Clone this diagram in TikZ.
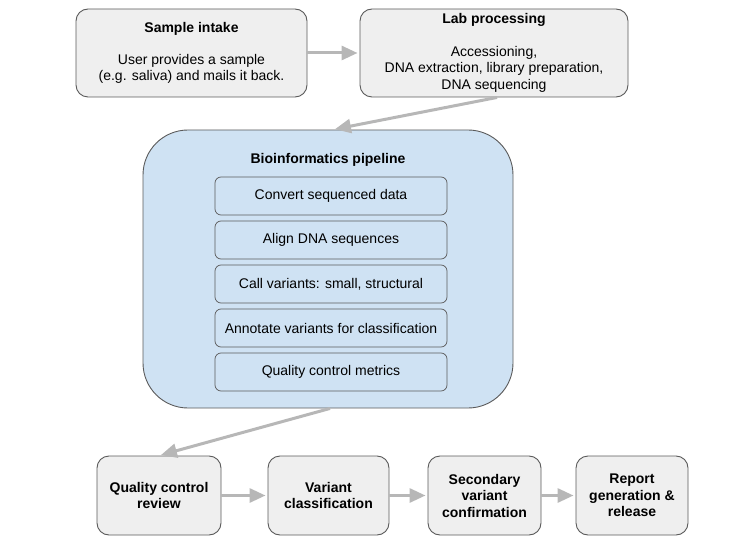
\documentclass[tikz,border=0pt]{standalone}
\usepackage{fontspec}
\setmainfont{Liberation Sans}
\usetikzlibrary{arrows.meta}
\definecolor{boxgray}{HTML}{EFEFEF}
\definecolor{edgegray}{HTML}{5A5A5A}
\definecolor{pipeblue}{HTML}{CFE2F3}
\definecolor{arrowgray}{HTML}{B7B7B7}
\tikzset{
  stagebox/.style = {draw=edgegray, fill=boxgray, rounded corners=12pt,
                     line width=0.9pt, align=center, inner sep=0pt,
                     font=\fontsize{14}{16.5}\selectfont},
  pipebox/.style  = {draw=edgegray, fill=pipeblue, rounded corners=45pt,
                     line width=0.9pt, minimum width=370pt, minimum height=278pt},
  substep/.style  = {draw=edgegray, fill=pipeblue, rounded corners=6pt,
                     line width=0.7pt, minimum width=232pt, minimum height=38pt,
                     inner sep=0pt, font=\fontsize{14}{16.5}\selectfont},
  flowarr/.style  = {-{Triangle[length=16pt,width=14pt]}, arrowgray,
                     line width=3pt, shorten >=2pt}
}

\begin{document}
\begin{tikzpicture}[x=1pt,y=-1pt]
  \useasboundingbox (0,0) rectangle (749,545);
  % top row
  \node[stagebox,minimum width=231pt,minimum height=88pt] (intake) at (191.5,53)
       {\textbf{Sample intake}\\[15pt]User provides a sample\\(e.g. saliva) and mails it back.};
  \node[stagebox,minimum width=268pt,minimum height=88pt] (lab) at (494,53)
       {\textbf{Lab processing}\\[16pt]Accessioning,\\DNA extraction, library preparation,\\DNA sequencing};
  % the pipeline and its steps
  \node[pipebox] (pipe) at (328,269) {};
  \node[font=\fontsize{14}{16.5}\selectfont\bfseries] (pipetitle) at (328,160) {Bioinformatics pipeline};
  \foreach \txt [count=\i] in {Convert sequenced data, Align DNA sequences,
      {Call variants: small, structural}, Annotate variants for classification,
      Quality control metrics}
    \node[substep] (p\i) at (331,152+44*\i) {\txt};
  % bottom row
  \node[stagebox,font=\fontsize{14}{16.5}\selectfont\bfseries,minimum width=124pt,minimum height=79pt]
       (qc) at (159,495.5) {Quality control\\review};
  \node[stagebox,font=\fontsize{14}{16.5}\selectfont\bfseries,minimum width=121pt,minimum height=79pt]
       (varcls) at (328.5,495.5) {Variant\\classification};
  \node[stagebox,font=\fontsize{14}{16.5}\selectfont\bfseries,minimum width=113pt,minimum height=79pt]
       (confirm) at (484.5,495.5) {Secondary\\variant\\confirmation};
  \node[stagebox,font=\fontsize{14}{16.5}\selectfont\bfseries,minimum width=112pt,minimum height=79pt]
       (report) at (632,495.5) {Report\\generation \&\\release};
  % connectors
  \draw[flowarr] (intake) -- (lab);
  \draw[flowarr] ([xshift=3pt]lab.south) -- ([xshift=5pt]pipe.north);
  \draw[flowarr] ([xshift=2pt]pipe.south) -- (qc.north);
  \draw[flowarr] (qc) -- (varcls);
  \draw[flowarr] (varcls) -- (confirm);
  \draw[flowarr] (confirm) -- (report);
\end{tikzpicture}
\end{document}
